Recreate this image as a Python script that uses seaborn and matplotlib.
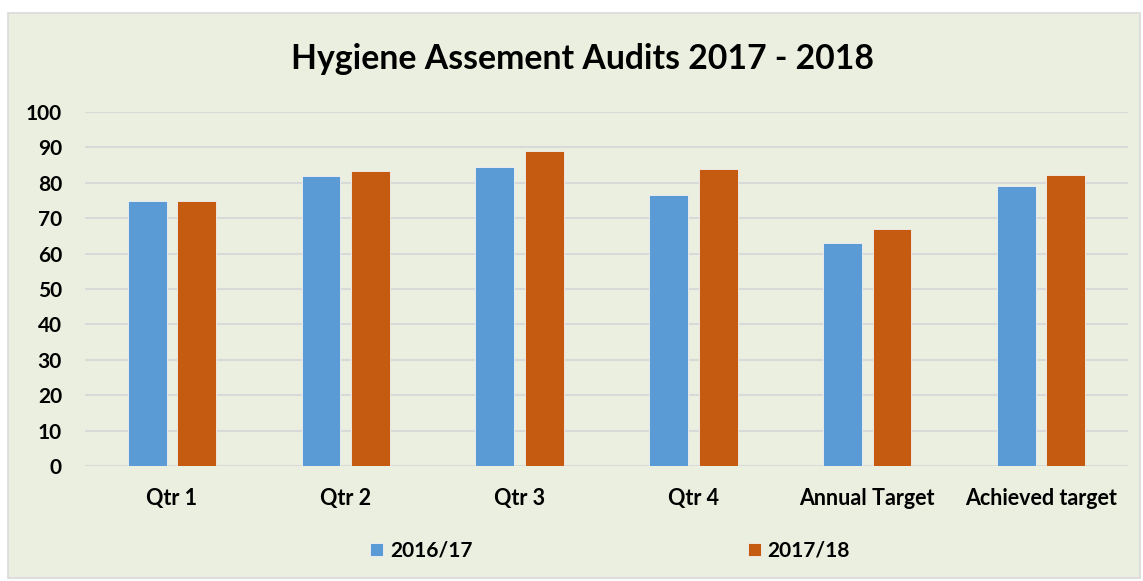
import pandas as pd
import seaborn as sns
import matplotlib.pyplot as plt
from matplotlib.patches import Rectangle

# Chart data
categories = ['Qtr 1', 'Qtr 2', 'Qtr 3', 'Qtr 4', 'Annual Target', 'Achieved target']
series_names = ['2016/17', '2017/18']
values_1617 = [75, 82, 84.4, 76.6, 63, 79]
values_1718 = [75, 83.3, 89, 84, 67, 82.3]
y_ticks = [0, 10, 20, 30, 40, 50, 60, 70, 80, 90, 100]

df = pd.DataFrame({
    'category': categories * 2,
    'series': [series_names[0]] * len(categories) + [series_names[1]] * len(categories),
    'value': values_1617 + values_1718,
})

sns.set_style('white')
plt.rcParams['font.family'] = ['Lato', 'DejaVu Sans']
plt.rcParams['font.weight'] = 'bold'
plt.rcParams['text.color'] = 'black'

bg = '#EBEFDF'
fig = plt.figure(figsize=(11.43, 5.81), dpi=100, facecolor='white')
# chart frame
fig.patches.append(Rectangle((8 / 1143, 3 / 581), 1132 / 1143, 565 / 581,
                             transform=fig.transFigure, facecolor=bg,
                             edgecolor='#D9D9D9', linewidth=1.2, zorder=-5))

ax = fig.add_axes([85 / 1143, 1 - 466 / 581, (1128 - 85) / 1143, (466 - 112) / 581])
ax.patch.set_alpha(0)

sns.barplot(data=df, x='category', y='value', hue='series', order=categories,
            hue_order=series_names, palette=['#5B9BD5', '#C55A11'],
            saturation=1, width=0.57, gap=0.214, edgecolor='#F2F2F2', linewidth=0.6,
            errorbar=None, ax=ax, zorder=3)

ax.set_ylim(0, 100)
ax.set_yticks(y_ticks)
ax.yaxis.grid(True, color='#D9D9D9', linewidth=1.5, zorder=0)
ax.set_axisbelow(True)
for s in ax.spines.values():
    s.set_visible(False)
ax.tick_params(axis='both', length=0, colors='black')
ax.tick_params(axis='y', pad=16.6, labelsize=15)
ax.tick_params(axis='x', pad=15.5, labelsize=15.5)
for lbl in ax.get_xticklabels() + ax.get_yticklabels():
    lbl.set_fontweight('bold')
ax.set_xlabel('')
ax.set_ylabel('')

fig.text(0.51, 1 - 59 / 581, 'Hygiene Assement Audits 2017 - 2018',
         ha='center', va='center', fontsize=24.3, fontweight='bold', color='black')

ax.get_legend().remove()
leg = fig.legend(*ax.get_legend_handles_labels(), loc='center',
                 bbox_to_anchor=(0.5337, 0.052), ncol=2, frameon=False,
                 columnspacing=13.2, handlelength=0.625, handleheight=0.625,
                 handletextpad=0.34, prop={'size': 15, 'weight': 'bold'})

fig.savefig('out.png', dpi=100, facecolor='white')
